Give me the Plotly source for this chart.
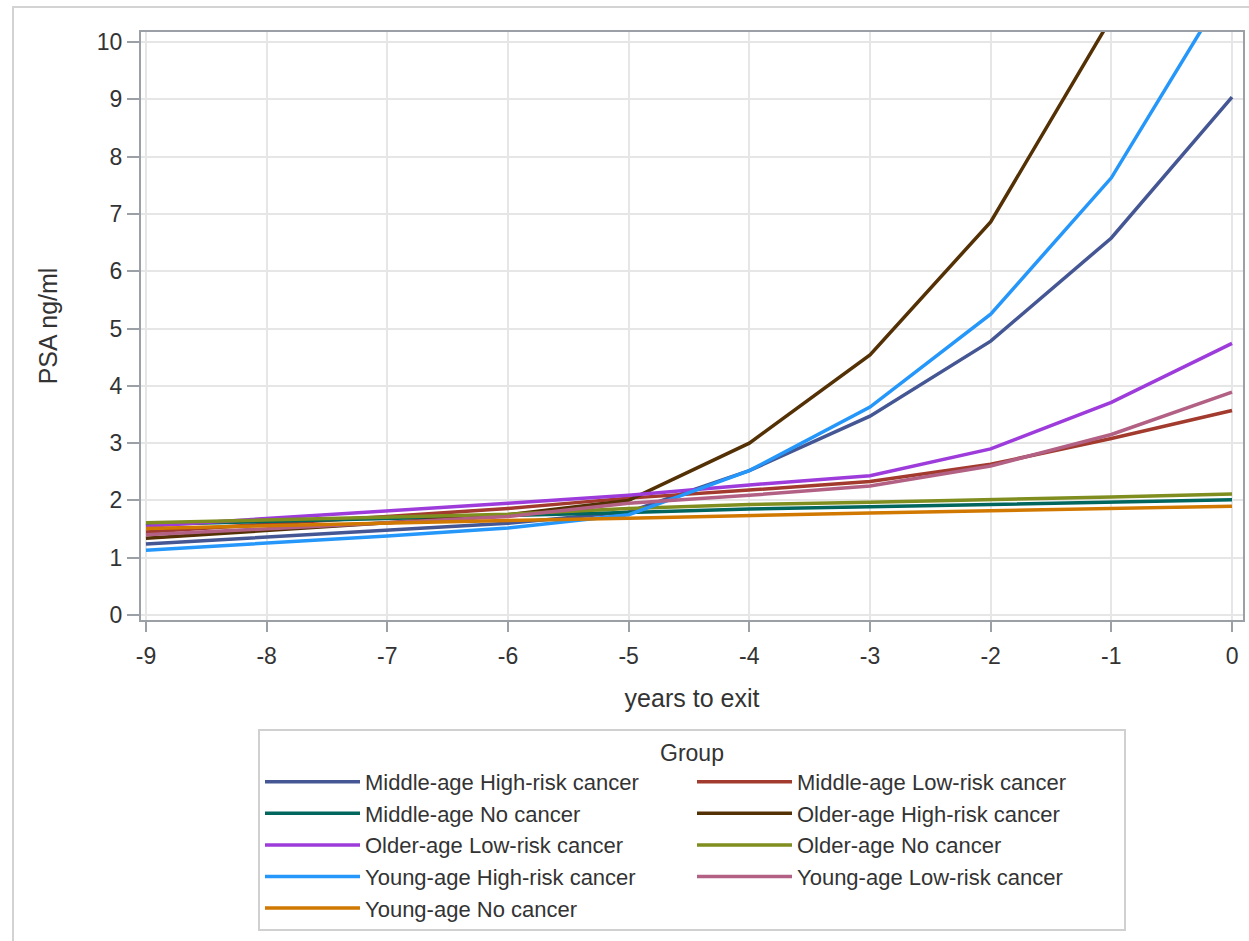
import plotly.graph_objects as go

years = [-9, -8, -7, -6, -5, -4, -3, -2, -1, 0]

groups = [
    "Middle-age High-risk cancer",
    "Middle-age Low-risk cancer",
    "Middle-age No cancer",
    "Older-age High-risk cancer",
    "Older-age Low-risk cancer",
    "Older-age No cancer",
    "Young-age High-risk cancer",
    "Young-age Low-risk cancer",
    "Young-age No cancer",
]

middle_high = [1.24, 1.36, 1.48, 1.60, 1.80, 2.52, 3.47, 4.78, 6.58, 9.04]
middle_low = [1.45, 1.58, 1.72, 1.86, 2.04, 2.18, 2.33, 2.63, 3.08, 3.57]
middle_none = [1.58, 1.63, 1.68, 1.73, 1.79, 1.85, 1.89, 1.93, 1.97, 2.01]
older_high = [1.34, 1.47, 1.61, 1.75, 2.00, 3.00, 4.54, 6.86, 10.42, 15.8]
older_low = [1.55, 1.68, 1.82, 1.95, 2.09, 2.27, 2.43, 2.90, 3.71, 4.74]
older_none = [1.61, 1.66, 1.71, 1.76, 1.86, 1.93, 1.97, 2.01, 2.06, 2.11]
young_high = [1.13, 1.25, 1.38, 1.52, 1.75, 2.52, 3.63, 5.25, 7.63, 11.09]
young_low = [1.40, 1.50, 1.61, 1.72, 1.95, 2.09, 2.25, 2.60, 3.15, 3.89]
young_none = [1.51, 1.56, 1.61, 1.65, 1.69, 1.74, 1.78, 1.82, 1.86, 1.90]

series = [middle_high, middle_low, middle_none, older_high, older_low,
          older_none, young_high, young_low, young_none]

colors = ["#445694", "#A23A2E", "#01665E", "#543005", "#9D3CDB",
          "#7F8E1F", "#2597FA", "#B26084", "#D17800"]

y_ticks = list(range(0, 11))
y_tick_labels = [str(v) for v in y_ticks]
x_ticks = list(range(-9, 1))
x_tick_labels = ["-9", "-8", "-7", "-6", "-5", "-4", "-3", "-2", "-1", "0"]

FONT = "Liberation Sans, Arial, sans-serif"
TXT = "#333333"

fig = go.Figure()
for name, vals, col in zip(groups, series, colors):
    fig.add_trace(go.Scatter(
        x=years, y=vals, mode="lines", name=name,
        line=dict(color=col, width=3.5),
    ))

axis_common = dict(
    showline=True, linecolor="#9aa0a6", linewidth=2, mirror=True,
    showgrid=True, gridcolor="#e6e6e6", gridwidth=2,
    zeroline=False, ticks="outside", tickwidth=2,
    tickcolor="#9aa0a6",
    tickfont=dict(family=FONT, size=23, color=TXT),
)

fig.update_xaxes(
    range=[-9.041, 0.091], tickvals=x_ticks, ticktext=x_tick_labels,
    ticklen=10, ticklabelstandoff=4,
    title=dict(text="years to exit", font=dict(family=FONT, size=25, color=TXT), standoff=22),
    **axis_common,
)
fig.update_yaxes(
    range=[-0.087, 10.175], tickvals=y_ticks, ticktext=y_tick_labels,
    ticklen=12,
    title=dict(text="PSA ng/ml", font=dict(family=FONT, size=25, color=TXT), standoff=32),
    **axis_common,
)

fig.update_layout(
    width=1249, height=941,
    margin=dict(l=141, r=6, t=32, b=321, autoexpand=False),
    paper_bgcolor="white", plot_bgcolor="white",
    font=dict(family=FONT, color=TXT),
    showlegend=True,
    legend=dict(
        orientation="h",
        x=0.5, xanchor="center",
        yref="container", y=1 - 729 / 941, yanchor="top",
        bordercolor="#d0d0d0", borderwidth=2,
        font=dict(family=FONT, size=22, color=TXT),
        title=dict(text="Group", side="top center", font=dict(family=FONT, size=23, color=TXT)),
        itemwidth=95,
        entrywidth=322,
        traceorder="normal",
    ),
    shapes=[dict(
        type="rect", xref="paper", yref="paper",
        x0=(13 - 141) / 1102, x1=(1300 - 141) / 1102,
        y0=(620 - 1000) / 588, y1=(620 - 7) / 588,
        line=dict(color="#d3d3d3", width=2), fillcolor="rgba(0,0,0,0)",
        layer="below",
    )],
)

fig.write_html("out.html")
